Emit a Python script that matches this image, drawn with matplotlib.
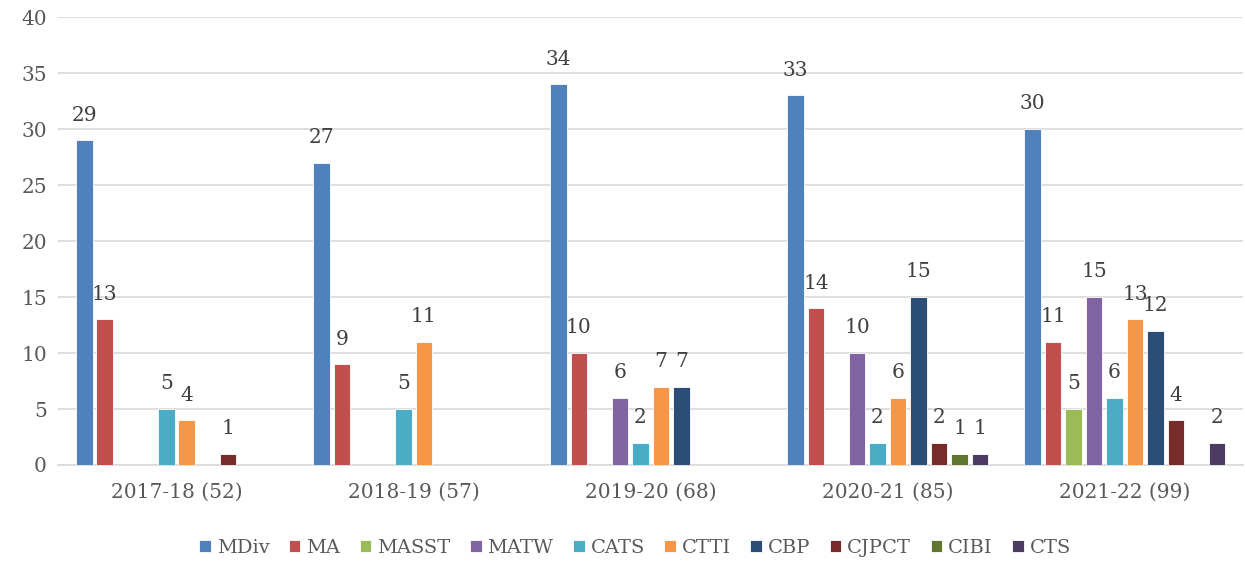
import matplotlib.pyplot as plt
import numpy as np

categories = ['2017-18 (52)', '2018-19 (57)', '2019-20 (68)', '2020-21 (85)', '2021-22 (99)']
series = ['MDiv', 'MA', 'MASST', 'MATW', 'CATS', 'CTTI', 'CBP', 'CJPCT', 'CIBI', 'CTS']
mdiv = [29, 27, 34, 33, 30]
ma = [13, 9, 10, 14, 11]
masst = [0, 0, 0, 0, 5]
matw = [0, 0, 6, 10, 15]
cats = [5, 5, 2, 2, 6]
ctti = [4, 11, 7, 6, 13]
cbp = [0, 0, 7, 15, 12]
cjpct = [1, 0, 0, 2, 4]
cibi = [0, 0, 0, 1, 0]
cts = [0, 0, 0, 1, 2]
values = [mdiv, ma, masst, matw, cats, ctti, cbp, cjpct, cibi, cts]
colors = ['#4F81BD', '#C0504D', '#9BBB59', '#8064A2', '#4BACC6',
          '#F79646', '#2C4D75', '#772C2A', '#5F7530', '#4D3B62']

plt.rcParams['font.family'] = ['DejaVu Serif']

fig = plt.figure(figsize=(12.45, 5.62), dpi=100)
ax = fig.add_axes([0.0466, 0.1726, 0.952, 0.797])

x = np.arange(len(categories))
step = 0.0865
width = 0.07
for i, (name, vals, col) in enumerate(zip(series, values, colors)):
    pos = x + (i - 4.5) * step
    ax.bar(pos, vals, width, color=col, edgecolor='white', linewidth=0.6,
           label=name, zorder=3)
    for p, v in zip(pos, vals):
        if v > 0:
            ax.text(p, v + 1.4, str(v), ha='center', va='bottom',
                    fontsize=14.5, color='#404040')

ax.set_xlim(-0.5, 4.5)
ax.set_ylim(0, 40)
ax.set_yticks(range(0, 41, 5))
ax.set_xticks(x)
ax.set_xticklabels(categories)
ax.tick_params(axis='both', length=0, labelsize=14.5, colors='#595959')
ax.tick_params(axis='x', pad=13)
ax.tick_params(axis='y', pad=8)
ax.grid(axis='y', color='#D9D9D9', linewidth=1.2, zorder=0)
for s in ['top', 'right', 'left']:
    ax.spines[s].set_visible(False)
ax.spines['bottom'].set_color('#D9D9D9')
ax.spines['bottom'].set_linewidth(1.2)

leg = fig.legend(loc='center', bbox_to_anchor=(0.51, 0.025), ncol=10, frameon=False,
                 fontsize=14, handlelength=0.6, handleheight=0.6, handletextpad=0.3,
                 columnspacing=1.0)
for t in leg.get_texts():
    t.set_color('#595959')

fig.savefig('out.png', dpi=100)
